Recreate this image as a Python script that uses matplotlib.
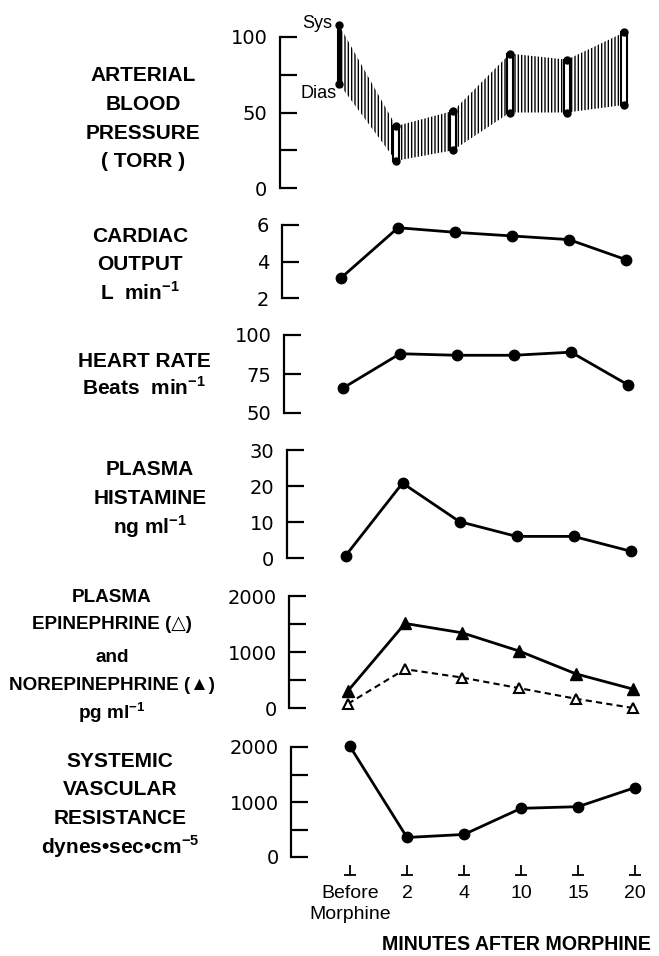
import matplotlib.pyplot as plt
from matplotlib import font_manager
from matplotlib.transforms import blended_transform_factory

# x categories (minutes after morphine)
time_labels = ["Before\nMorphine", "2", "4", "10", "15", "20"]
x = list(range(len(time_labels)))

# values
bp_sys = [108, 41, 51, 89, 85, 103]
bp_dias = [69, 18, 25, 50, 50, 55]
cardiac_output = [3.1, 5.85, 5.6, 5.4, 5.2, 4.1]
heart_rate = [66, 88, 87, 87, 89, 68]
histamine = [0.6, 20.8, 10.1, 6.0, 6.0, 1.9]
norepinephrine = [307, 1510, 1343, 1018, 609, 337]
epinephrine = [76, 693, 544, 355, 165, 0]
svr = [2010, 355, 410, 885, 915, 1262]

# pick a condensed font if there is one
names = {f.name for f in font_manager.fontManager.ttflist}
if 'Liberation Sans Narrow' in names:
    narrow, k = 'Liberation Sans Narrow', 1.05
else:
    narrow, k = 'Liberation Sans', 0.94
fam = [narrow, 'DejaVu Sans']

plt.rcParams['mathtext.fontset'] = 'custom'
plt.rcParams['mathtext.rm'] = narrow
plt.rcParams['mathtext.bf'] = narrow + ':bold'
plt.rcParams['hatch.linewidth'] = 1.0

W, H = 659, 956
fig = plt.figure(figsize=(W / 100, H / 100), dpi=100)


def add_panel(left, top, bottom, lo, hi, ticks, labels):
    # positions given in pixels of the output image
    ax = fig.add_axes([left / W, 1 - bottom / H, 360 / W, (bottom - top) / H])
    ax.set_ylim(lo, hi)
    ax.set_xlim(-1.035, 5.28)
    for s in ['top', 'right', 'bottom']:
        ax.spines[s].set_visible(False)
    ax.spines['left'].set_linewidth(1.6)
    ax.set_yticks(ticks, labels)
    ax.tick_params(axis='y', direction='in', length=12, width=1.6, pad=9,
                   labelsize=14)
    ax.set_xticks([])
    ax.patch.set_visible(False)
    return ax


def side_label(xc, baselines, lines, size=16):
    for yb, line in zip(baselines, lines):
        fig.text(xc / W, 1 - yb / H, line, ha='center', va='baseline',
                 family=fam, weight='bold', size=size * k)


line_kw = dict(color='black', lw=2, marker='o', ms=7.5, clip_on=False)

# 1) arterial blood pressure
ax1 = add_panel(280, 37, 188, 0, 100, [0, 25, 50, 75, 100],
                ['0', '', '50', '', '100'])
ax1.fill_between(x, bp_dias, bp_sys, facecolor='none', edgecolor='black',
                 linewidth=0, hatch='|||||', clip_on=False)
bars = ax1.bar(x, [s - d for s, d in zip(bp_sys, bp_dias)], bottom=bp_dias,
               width=0.09, facecolor='white', edgecolor='black', lw=1.5,
               zorder=3, clip_on=False)
bars[0].set_facecolor('black')
bars[0].set_x(x[0] - 0.025)
bars[0].set_width(0.05)
ax1.plot(x, bp_sys, 'o', color='black', ms=5, zorder=4, clip_on=False)
ax1.plot(x, bp_dias, 'o', color='black', ms=5, zorder=4, clip_on=False)
ax1.annotate('Sys', (x[0], bp_sys[0]), xytext=(-5, 1), textcoords='offset points',
             ha='right', va='center', family=fam, size=13,
             annotation_clip=False)
ax1.annotate('Dias', (x[0], bp_dias[0]), xytext=(-2, -7), textcoords='offset points',
             ha='right', va='center', family=fam, size=13,
             annotation_clip=False)
side_label(143, [81, 110, 139, 167], ['ARTERIAL', 'BLOOD', 'PRESSURE', '( TORR )'])

# 2) cardiac output
ax2 = add_panel(282, 225, 298, 2, 6, [2, 4, 6], ['2', '4', '6'])
ax2.plot(x, cardiac_output, **line_kw)
side_label(140, [242, 270, 300],
           ['CARDIAC', 'OUTPUT', r'L  min$^{\mathbf{-1}}$'])

# 3) heart rate
ax3 = add_panel(284, 335, 413, 50, 100, [50, 75, 100], ['50', '75', '100'])
ax3.plot(x, heart_rate, **line_kw)
side_label(144, [367, 395], ['HEART RATE', r'Beats  min$^{\mathbf{-1}}$'])

# 4) plasma histamine
ax4 = add_panel(286.5, 450, 558, 0, 30, [0, 10, 20, 30], ['0', '10', '20', '30'])
ax4.plot(x, histamine, **line_kw)
side_label(150, [475, 504, 534], ['PLASMA', 'HISTAMINE', r'ng ml$^{\mathbf{-1}}$'])

# 5) epinephrine / norepinephrine
ax5 = add_panel(289, 596, 708, 0, 2000, [0, 500, 1000, 1500, 2000],
                ['0', '', '1000', '', '2000'])
ax5.plot(x, norepinephrine, color='black', lw=2, marker='^', ms=9,
         clip_on=False)
ax5.plot(x, epinephrine, color='black', lw=1.5, ls=(0, (3, 2)), marker='^',
         ms=7.5, mfc='white', mec='black', mew=1.5, clip_on=False)
side_label(112, [602, 629, 662, 690, 719],
           ['PLASMA', 'EPINEPHRINE (△)', 'and', 'NOREPINEPHRINE (▲)',
            r'pg ml$^{\mathbf{-1}}$'], size=14.5)

# 6) systemic vascular resistance + x axis
ax6 = add_panel(291, 747, 857, 0, 2000, [0, 500, 1000, 1500, 2000],
                ['0', '', '1000', '', '2000'])
ax6.plot(x, svr, **line_kw)
side_label(120, [767, 795, 824, 854],
           ['SYSTEMIC', 'VASCULAR', 'RESISTANCE', r'dynes•sec•cm$^{\mathbf{-5}}$'])

ax6.set_xticks(x, time_labels)
ax6.tick_params(axis='x', length=0, pad=20, labelsize=14)
for t in ax6.get_xticklabels():
    t.set_family(fam)
    t.set_linespacing(1.35)
trans = blended_transform_factory(ax6.transData, ax6.transAxes)
ax6.plot(x, [-0.167] * 6, ls='none', marker='_', ms=9, mew=1.3, color='black',
         transform=trans, clip_on=False)
ax6.plot(x, [-0.167] * 6, ls='none', marker=2, ms=7, mew=1.3, color='black',
         transform=trans, clip_on=False)

fig.text(516 / W, 1 - 945 / H, 'MINUTES AFTER MORPHINE', ha='center',
         va='center', family=fam, weight='bold', size=15 * k)

fig.savefig('out.png', dpi=100)
